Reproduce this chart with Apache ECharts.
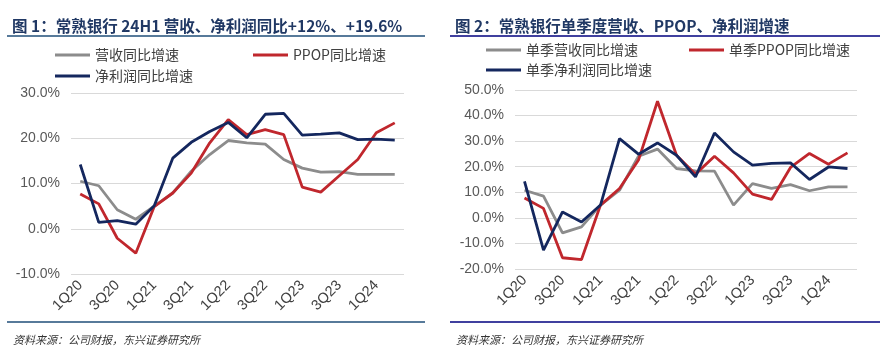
<!DOCTYPE html>
<html>
<head>
<meta charset="utf-8">
<script src="https://cdn.jsdelivr.net/npm/echarts@6/dist/echarts.min.js"></script>
<style>
  html, body { margin: 0; padding: 0; background: #fff; }
  #chart { width: 886px; height: 354px; }
</style>
</head>
<body>
<div id="chart"></div>
<script>
// quarters 1Q20 .. 2Q24
const quarters = ["1Q20","2Q20","3Q20","4Q20","1Q21","2Q21","3Q21","4Q21","1Q22","2Q22","3Q22","4Q22","1Q23","2Q23","3Q23","4Q23","1Q24","2Q24"];

// chart 1: cumulative YoY growth (%)
const revenueYoY = [10.5, 9.5, 4.2, 2.1, 5.0, 7.9, 12.7, 16.4, 19.5, 19.0, 18.7, 15.3, 13.4, 12.5, 12.6, 12.0, 12.0, 12.0];
const ppopYoY = [7.7, 5.5, -2.1, -5.4, 4.9, 7.9, 12.3, 19.0, 24.1, 20.8, 21.9, 20.8, 9.2, 8.1, 11.7, 15.3, 21.2, 23.4];
const profitYoY = [14.2, 1.4, 1.8, 1.0, 5.1, 15.6, 19.1, 21.5, 23.5, 20.1, 25.3, 25.5, 20.7, 20.9, 21.2, 19.7, 19.8, 19.6];

// chart 2: single-quarter YoY growth (%)
const qRevenueYoY = [10.8, 8.5, -5.9, -3.5, 5.0, 10.8, 24.1, 26.9, 19.3, 18.4, 18.3, 5.0, 13.4, 11.5, 13.0, 10.6, 12.1, 12.1];
const qPpopYoY = [7.8, 3.7, -15.6, -16.3, 5.0, 11.5, 22.6, 45.6, 24.5, 17.1, 24.1, 17.6, 9.3, 7.2, 19.7, 25.2, 21.0, 25.4];
const qProfitYoY = [14.3, -12.6, 2.3, -1.6, 5.0, 31.0, 24.9, 29.3, 24.5, 16.0, 33.2, 25.8, 20.6, 21.3, 21.5, 15.0, 19.9, 19.3];

const GRAY = "#8c8c8c", RED = "#c0272d", NAVY = "#14275e";
const numFont = "'Liberation Sans', Arial, sans-serif";
const narrowFont = "'Liberation Sans Narrow', 'Liberation Sans', sans-serif";
const cnFont = "'Noto Sans CJK SC', sans-serif";

const chart = echarts.init(document.getElementById("chart"));

function xAxis(gridIndex) {
  return {
    type: "category", gridIndex: gridIndex, data: quarters, boundaryGap: true,
    axisLine: { show: false }, axisTick: { show: false },
    axisLabel: { interval: 1, rotate: 45, margin: 9, color: "#404040", fontSize: 14.5, fontFamily: numFont }
  };
}
function yAxis(gridIndex, min, max) {
  return {
    type: "value", gridIndex: gridIndex, min: min, max: max, interval: 10,
    axisLine: { show: false }, axisTick: { show: false },
    axisLabel: { formatter: (v) => v.toFixed(1) + "%", color: "#595959", fontSize: 14, fontFamily: narrowFont, margin: 11 },
    splitLine: { lineStyle: { color: "#d9d9d9", width: 1 } }
  };
}
function line(name, data, color, idx) {
  return {
    name: name, type: "line", data: data, xAxisIndex: idx, yAxisIndex: idx,
    symbol: "none", lineStyle: { color: color, width: 2.8 }, itemStyle: { color: color }
  };
}
function legend(name, left, top) {
  return {
    data: [name], left: left, top: top, icon: "rect", itemWidth: 35, itemHeight: 3, itemGap: 4,
    textStyle: { fontSize: 14, color: "#404040", fontFamily: cnFont }
  };
}

const option = {
  animation: false,
  title: [
    { text: "图 1：常熟银行 24H1 营收、净利润同比+12%、+19.6%", left: 7, top: 13,
      textStyle: { fontSize: 15.5, fontWeight: "bold", color: "#203864", fontFamily: cnFont } },
    { text: "图 2：常熟银行单季度营收、PPOP、净利润增速", left: 450, top: 13,
      textStyle: { fontSize: 15.5, fontWeight: "bold", color: "#203864", fontFamily: cnFont } },
    { text: "资料来源：公司财报，东兴证券研究所", left: 8, top: 329,
      textStyle: { fontSize: 11, fontStyle: "italic", fontWeight: "normal", color: "#333", fontFamily: cnFont } },
    { text: "资料来源：公司财报，东兴证券研究所", left: 451, top: 329,
      textStyle: { fontSize: 11, fontStyle: "italic", fontWeight: "normal", color: "#333", fontFamily: cnFont } }
  ],
  legend: [
    legend("营收同比增速", 50, 43),
    legend("PPOP同比增速", 248, 43),
    legend("净利润同比增速", 50, 64),
    legend("单季营收同比增速", 481, 38),
    legend("单季PPOP同比增速", 684, 38),
    legend("单季净利润同比增速", 481, 58)
  ],
  grid: [
    { left: 71, right: 482, top: 93, bottom: 80 },
    { left: 515, right: 29, top: 90, bottom: 85 }
  ],
  xAxis: [xAxis(0), xAxis(1)],
  yAxis: [yAxis(0, -10, 30), yAxis(1, -20, 50)],
  series: [
    line("营收同比增速", revenueYoY, GRAY, 0),
    line("PPOP同比增速", ppopYoY, RED, 0),
    line("净利润同比增速", profitYoY, NAVY, 0),
    line("单季营收同比增速", qRevenueYoY, GRAY, 1),
    line("单季PPOP同比增速", qPpopYoY, RED, 1),
    line("单季净利润同比增速", qProfitYoY, NAVY, 1)
  ],
  graphic: [
    { type: "line", shape: { x1: 7, y1: 36, x2: 425, y2: 36 }, style: { stroke: "#1f4e79", lineWidth: 1.5 } },
    { type: "line", shape: { x1: 450, y1: 36, x2: 880, y2: 36 }, style: { stroke: "#00007f", lineWidth: 1.5 } },
    { type: "line", shape: { x1: 7, y1: 322, x2: 425, y2: 322 }, style: { stroke: "#1f4e79", lineWidth: 1.5 } },
    { type: "line", shape: { x1: 450, y1: 322, x2: 880, y2: 322 }, style: { stroke: "#00007f", lineWidth: 1.5 } }
  ]
};

chart.setOption(option);
window.addEventListener("resize", () => chart.resize());
</script>
</body>
</html>
